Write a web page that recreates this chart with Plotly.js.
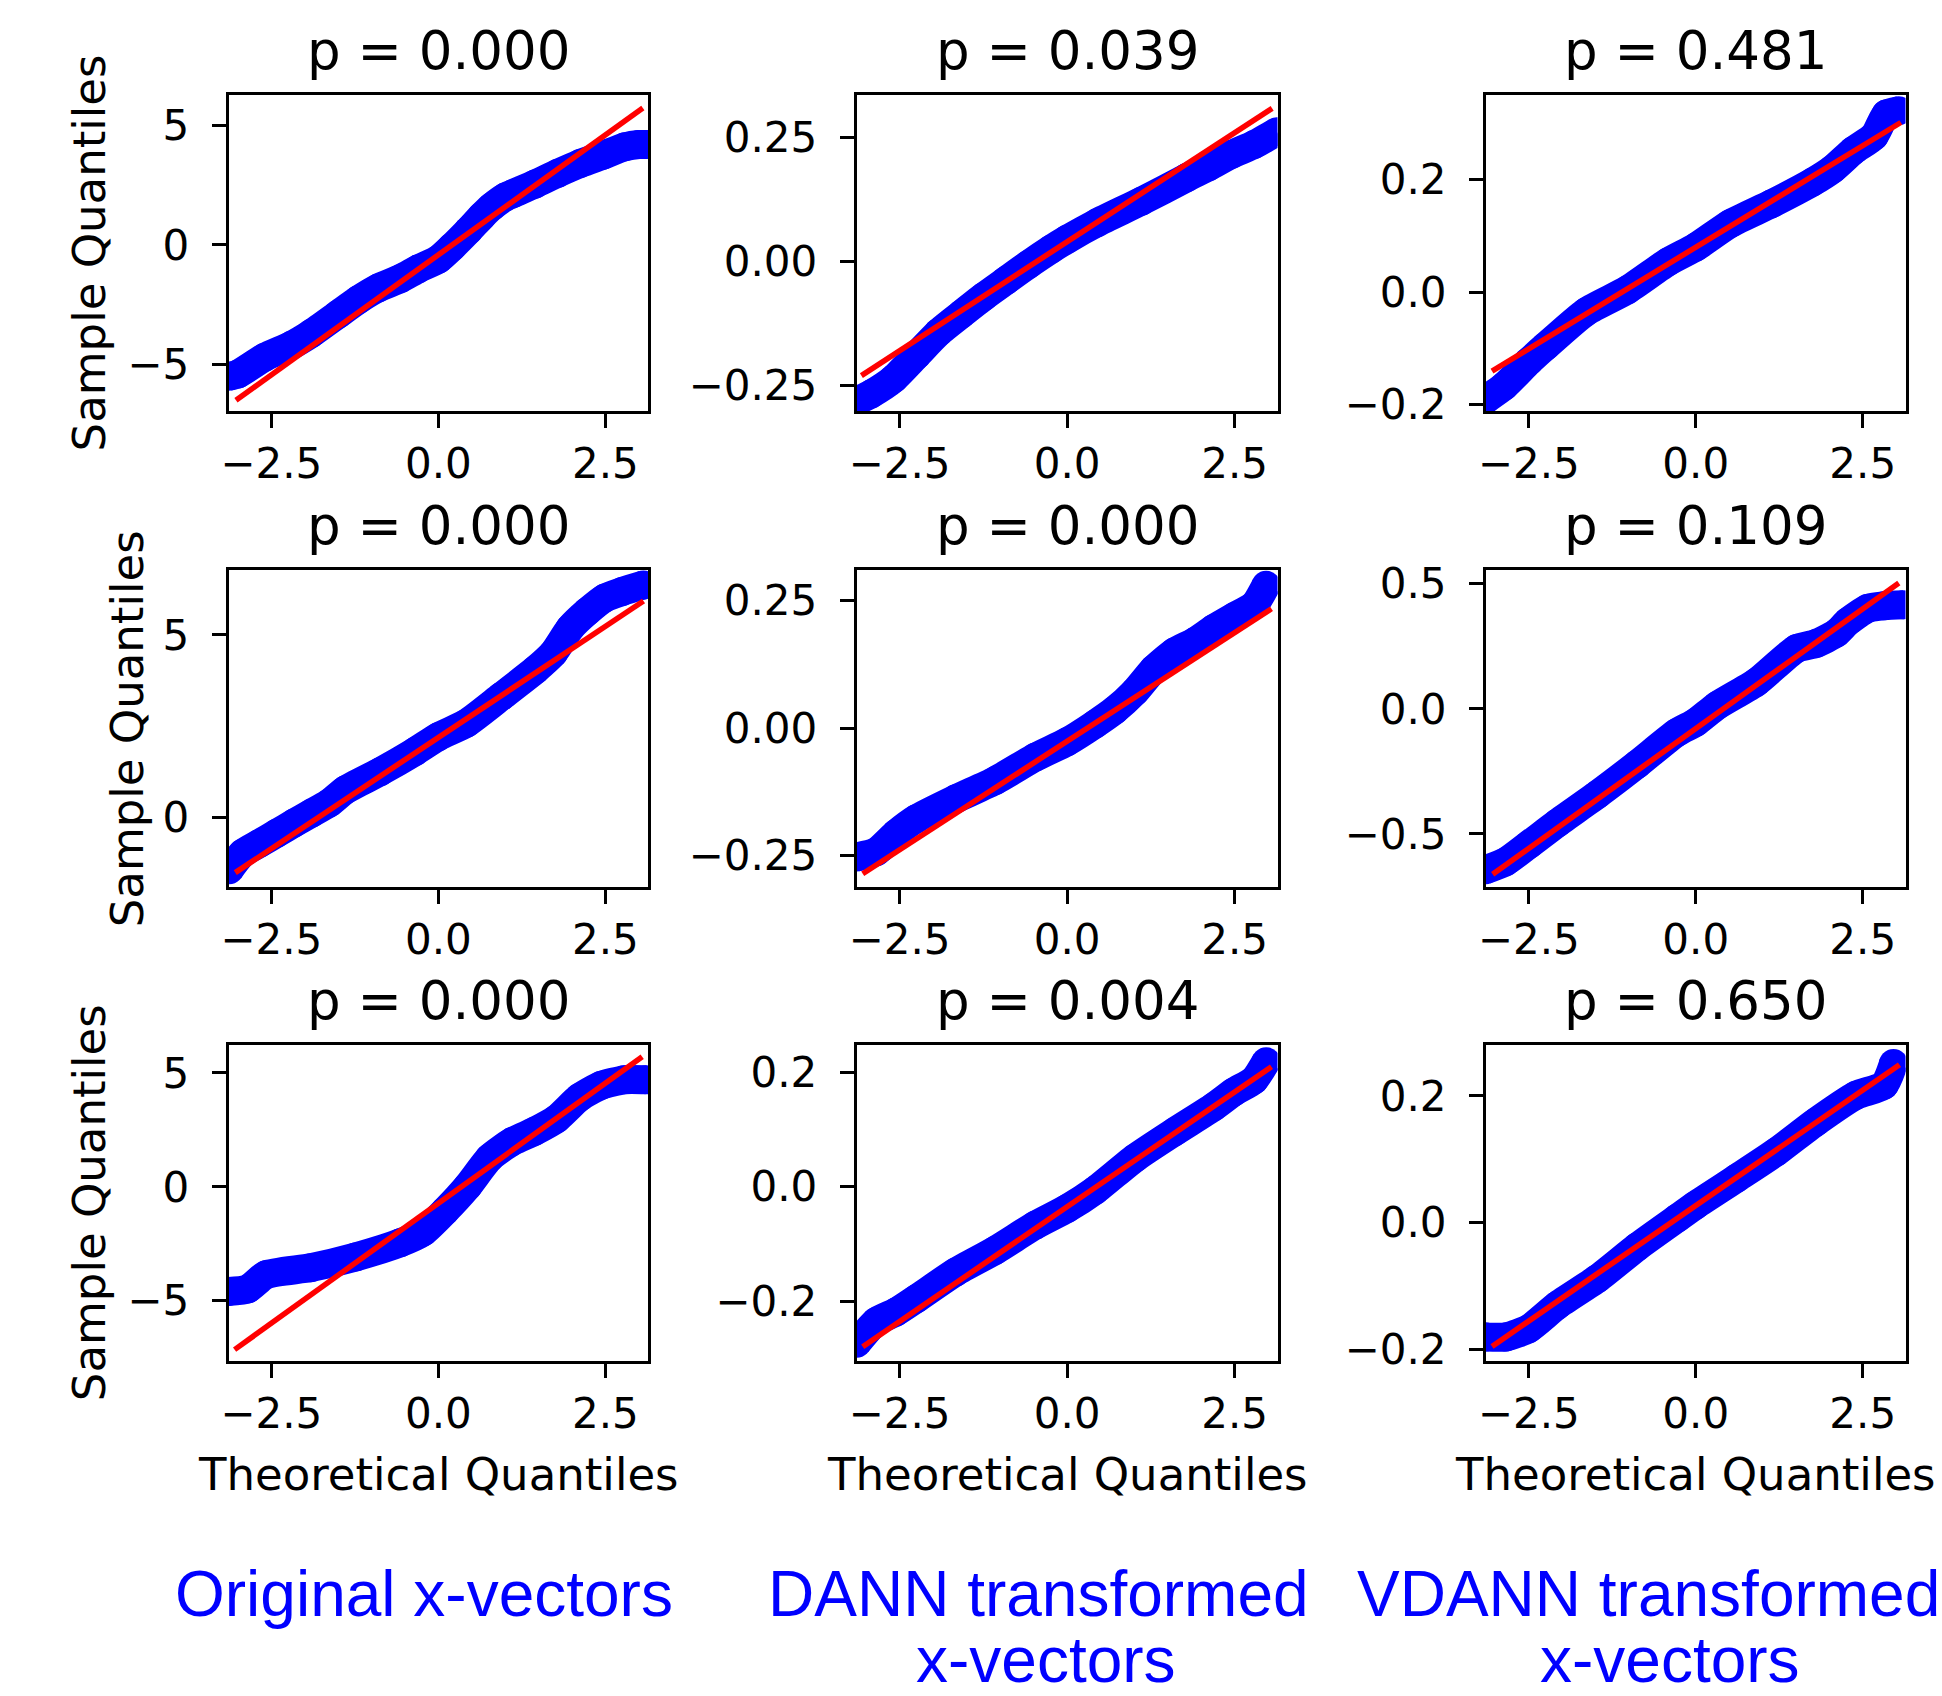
<!DOCTYPE html>
<html>
<head>
<meta charset="utf-8">
<script src="https://cdn.plot.ly/plotly-3.0.1.min.js"></script>
<style>html,body{margin:0;padding:0;background:#fff;}#chart{width:1942px;height:1696px;}</style>
</head>
<body>
<div id="chart"></div>
<script>
// ---------- data ----------
const pTitles = ['p = 0.000', 'p = 0.039', 'p = 0.481',
                 'p = 0.000', 'p = 0.000', 'p = 0.109',
                 'p = 0.000', 'p = 0.004', 'p = 0.650'];
const columnLabels = [['Original x-vectors'], ['DANN transformed', 'x-vectors'], ['VDANN transformed', 'x-vectors']];
const xLabel = 'Theoretical Quantiles';
const yLabel = 'Sample Quantiles';

const xTickVals = [-2.5, 0, 2.5];
const xTickText = ['\u22122.5', '0.0', '2.5'];

// panel r1c1
const theoX_1 = [-3.14, -3.0, -2.6, -2.2, -1.9, -1.5, -1.2, -0.9, -0.56, -0.3, 0.0, 0.2, 0.45, 0.65, 0.8, 1.0, 1.12, 1.45, 1.79, 2.12, 2.46, 2.79, 3.0, 3.14];
const sampY_1 = [-5.5, -5.4, -4.7, -4.2, -3.7, -2.9, -2.3, -1.8, -1.4, -1.0, -0.6, -0.1, 0.6, 1.2, 1.6, 2.0, 2.15, 2.55, 3.0, 3.4, 3.75, 4.1, 4.2, 4.2];
const fitX_1 = [-3.03, 3.06];
const fitY_1 = [-6.5, 5.73];
// panel r1c2
const theoX_2 = [-3.17, -2.92, -2.59, -2.25, -1.92, -1.58, -1.24, -0.91, -0.57, -0.24, 0.0, 0.44, 1.11, 1.78, 2.12, 2.45, 2.79, 3.13];
const sampY_2 = [-0.283, -0.266, -0.236, -0.189, -0.143, -0.106, -0.07, -0.038, -0.005, 0.025, 0.045, 0.078, 0.122, 0.169, 0.192, 0.216, 0.236, 0.262];
const fitX_2 = [-3.07, 3.06];
const fitY_2 = [-0.2296, 0.309];
// panel r1c3
const theoX_3 = [-3.14, -2.87, -2.5, -2.25, -1.64, -1.02, -0.41, 0.0, 0.52, 1.13, 1.75, 2.05, 2.36, 2.67, 2.85, 3.04];
const sampY_3 = [-0.191, -0.168, -0.124, -0.097, -0.035, 0.004, 0.054, 0.08, 0.122, 0.157, 0.196, 0.219, 0.252, 0.278, 0.317, 0.323];
const fitX_3 = [-3.05, 3.07];
const fitY_3 = [-0.141, 0.302];
// panel r2c1
const theoX_4 = [-3.13, -2.93, -2.67, -2.42, -2.16, -1.9, -1.64, -1.39, -0.87, -0.35, 0.0, 0.42, 0.94, 1.45, 1.72, 1.97, 2.23, 2.49, 2.75, 3.07];
const sampY_4 = [-1.44, -0.99, -0.71, -0.44, -0.16, 0.11, 0.38, 0.75, 1.25, 1.8, 2.21, 2.58, 3.31, 4.04, 4.5, 5.18, 5.64, 6.01, 6.19, 6.37];
const fitX_4 = [-3.04, 3.07];
const fitY_4 = [-1.52, 5.93];
// panel r2c2
const theoX_5 = [-3.14, -2.85, -2.55, -2.25, -1.66, -1.07, -0.47, 0.0, 0.42, 0.71, 1.01, 1.3, 1.6, 1.9, 2.19, 2.49, 2.79, 2.97];
const sampY_5 = [-0.253, -0.243, -0.207, -0.178, -0.139, -0.103, -0.057, -0.027, 0.008, 0.035, 0.071, 0.116, 0.149, 0.169, 0.195, 0.218, 0.241, 0.28];
const fitX_5 = [-3.05, 3.05];
const fitY_5 = [-0.286, 0.234];
// panel r2c3
const theoX_6 = [-3.15, -2.84, -2.5, -2.07, -1.47, -0.875, -0.28, 0.0, 0.32, 0.91, 1.51, 1.8, 2.1, 2.28, 2.58, 2.82, 3.11];
const sampY_6 = [-0.643, -0.61, -0.543, -0.456, -0.342, -0.221, -0.094, -0.054, 0.013, 0.107, 0.241, 0.261, 0.302, 0.349, 0.402, 0.412, 0.416];
const fitX_6 = [-3.04, 3.04];
const fitY_6 = [-0.661, 0.503];
// panel r3c1
const theoX_7 = [-3.15, -2.85, -2.58, -1.91, -1.24, -0.57, -0.23, 0.1, 0.44, 0.77, 1.1, 1.44, 1.77, 2.11, 2.44, 2.78, 3.11];
const sampY_7 = [-4.6, -4.48, -3.86, -3.55, -3.08, -2.46, -1.99, -1.06, 0.03, 1.28, 1.98, 2.44, 2.99, 3.92, 4.46, 4.7, 4.7];
const fitX_7 = [-3.05, 3.05];
const fitY_7 = [-7.15, 5.71];
// panel r3c2
const theoX_8 = [-3.14, -2.85, -2.55, -2.25, -1.66, -1.07, -0.47, 0.0, 0.42, 1.01, 1.6, 2.19, 2.49, 2.79, 2.97];
const sampY_8 = [-0.274, -0.236, -0.219, -0.196, -0.149, -0.111, -0.067, -0.038, -0.006, 0.05, 0.096, 0.14, 0.166, 0.187, 0.219];
const fitX_8 = [-3.05, 3.05];
const fitY_8 = [-0.28, 0.21];
// panel r3c3
const theoX_9 = [-3.15, -2.84, -2.5, -2.07, -1.47, -0.875, -0.28, 0.0, 0.61, 1.21, 1.8, 2.4, 2.82, 2.96];
const sampY_9 = [-0.18, -0.18, -0.167, -0.13, -0.088, -0.038, 0.007, 0.028, 0.07, 0.112, 0.159, 0.201, 0.217, 0.251];
const fitX_9 = [-3.05, 3.05];
const fitY_9 = [-0.195, 0.249];

// y-axis ticks per panel
const yTickVals_1 = [-5, 0, 5];        const yTickText_1 = ['\u22125', '0', '5'];
const yTickVals_2 = [-0.25, 0, 0.25];  const yTickText_2 = ['\u22120.25', '0.00', '0.25'];
const yTickVals_3 = [-0.2, 0, 0.2];    const yTickText_3 = ['\u22120.2', '0.0', '0.2'];
const yTickVals_4 = [0, 5];            const yTickText_4 = ['0', '5'];
const yTickVals_5 = [-0.25, 0, 0.25];  const yTickText_5 = ['\u22120.25', '0.00', '0.25'];
const yTickVals_6 = [-0.5, 0, 0.5];    const yTickText_6 = ['\u22120.5', '0.0', '0.5'];
const yTickVals_7 = [-5, 0, 5];        const yTickText_7 = ['\u22125', '0', '5'];
const yTickVals_8 = [-0.2, 0, 0.2];    const yTickText_8 = ['\u22120.2', '0.0', '0.2'];
const yTickVals_9 = [-0.2, 0, 0.2];    const yTickText_9 = ['\u22120.2', '0.0', '0.2'];

// ---------- assembly ----------
const panels = [
  [theoX_1, sampY_1, fitX_1, fitY_1, yTickVals_1, yTickText_1],
  [theoX_2, sampY_2, fitX_2, fitY_2, yTickVals_2, yTickText_2],
  [theoX_3, sampY_3, fitX_3, fitY_3, yTickVals_3, yTickText_3],
  [theoX_4, sampY_4, fitX_4, fitY_4, yTickVals_4, yTickText_4],
  [theoX_5, sampY_5, fitX_5, fitY_5, yTickVals_5, yTickText_5],
  [theoX_6, sampY_6, fitX_6, fitY_6, yTickVals_6, yTickText_6],
  [theoX_7, sampY_7, fitX_7, fitY_7, yTickVals_7, yTickText_7],
  [theoX_8, sampY_8, fitX_8, fitY_8, yTickVals_8, yTickText_8],
  [theoX_9, sampY_9, fitX_9, fitY_9, yTickVals_9, yTickText_9]
];
const yRanges = [[-6.95, 6.27], [-0.301, 0.336], [-0.212, 0.351],
                 [-1.9, 6.78], [-0.311, 0.31], [-0.71, 0.555],
                 [-7.65, 6.25], [-0.305, 0.249], [-0.218, 0.281]];
const xRange = [-3.14, 3.14];

const W = 1942, H = 1696;
const colPx = [[228.6, 648.2], [856.7, 1277.5], [1486, 1905.5]];
const rowPx = [[95, 411], [570, 886.5], [1044.5, 1361]];
const fx = p => p / W;
const fy = p => 1 - p / H;

const FONT = 'DejaVu Sans';
const traces = [];
const layout = {
  width: W, height: H,
  margin: {l: 0, r: 0, t: 0, b: 0},
  paper_bgcolor: '#fff', plot_bgcolor: '#fff',
  showlegend: false,
  font: {family: FONT, color: '#000', size: 42},
  annotations: []
};

panels.forEach((p, i) => {
  const r = Math.floor(i / 3), c = i % 3;
  const sfx = i === 0 ? '' : String(i + 1);
  const xa = 'x' + sfx, ya = 'y' + sfx;
  traces.push({
    x: p[0], y: p[1], xaxis: xa, yaxis: ya, type: 'scatter', mode: 'lines+markers',
    line: {color: 'blue', width: 29, shape: 'spline', smoothing: 0.6},
    marker: {color: 'blue', size: 29}, hoverinfo: 'skip'
  });
  traces.push({
    x: p[2], y: p[3], xaxis: xa, yaxis: ya, type: 'scatter', mode: 'lines',
    line: {color: 'red', width: 5.5}, hoverinfo: 'skip'
  });
  const axCommon = {
    showgrid: false, zeroline: false, showline: true, mirror: true,
    linecolor: '#000', linewidth: 3, ticks: 'outside', ticklen: 14, tickwidth: 3,
    tickcolor: '#000', tickfont: {family: FONT, size: 42, color: '#000'}
  };
  layout['xaxis' + sfx] = Object.assign({}, axCommon, {
    domain: [fx(colPx[c][0]), fx(colPx[c][1])], anchor: ya, range: xRange,
    tickmode: 'array', tickvals: xTickVals, ticktext: xTickText, ticklabelstandoff: 0
  });
  layout['yaxis' + sfx] = Object.assign({}, axCommon, {
    domain: [fy(rowPx[r][1]), fy(rowPx[r][0])], anchor: xa, range: yRanges[i],
    tickmode: 'array', tickvals: p[4], ticktext: p[5], ticklabelstandoff: 14
  });
  const cx = fx((colPx[c][0] + colPx[c][1]) / 2);
  layout.annotations.push({
    text: pTitles[i], xref: 'paper', yref: 'paper', x: cx, y: fy(rowPx[r][0] - 44.5),
    xanchor: 'center', yanchor: 'middle', showarrow: false,
    font: {family: FONT, size: 53, color: '#000'}
  });
  if (r === 2) {
    layout.annotations.push({
      text: xLabel, xref: 'paper', yref: 'paper', x: cx, y: fy(1474.5),
      xanchor: 'center', yanchor: 'middle', showarrow: false,
      font: {family: FONT, size: 45, color: '#000'}
    });
  }
  if (c === 0) {
    const lx = r === 1 ? 127 : 89.4;
    layout.annotations.push({
      text: yLabel, xref: 'paper', yref: 'paper', x: fx(lx), y: fy((rowPx[r][0] + rowPx[r][1]) / 2),
      xanchor: 'center', yanchor: 'middle', textangle: -90, showarrow: false,
      font: {family: FONT, size: 45, color: '#000'}
    });
  }
});

// bottom blue column labels
const labelCentersX = [[424], [1038, 1046], [1648, 1670]];
const labelCentersY = [1594, 1660];
columnLabels.forEach((lines, c) => {
  lines.forEach((t, k) => {
    layout.annotations.push({
      text: t, xref: 'paper', yref: 'paper', x: fx(labelCentersX[c][k]), y: fy(labelCentersY[k]),
      xanchor: 'center', yanchor: 'middle', showarrow: false,
      font: {family: 'Liberation Sans', size: 64, color: '#0000ff'}
    });
  });
});

Plotly.newPlot('chart', traces, layout, {staticPlot: true, displayModeBar: false});
</script>
</body>
</html>
